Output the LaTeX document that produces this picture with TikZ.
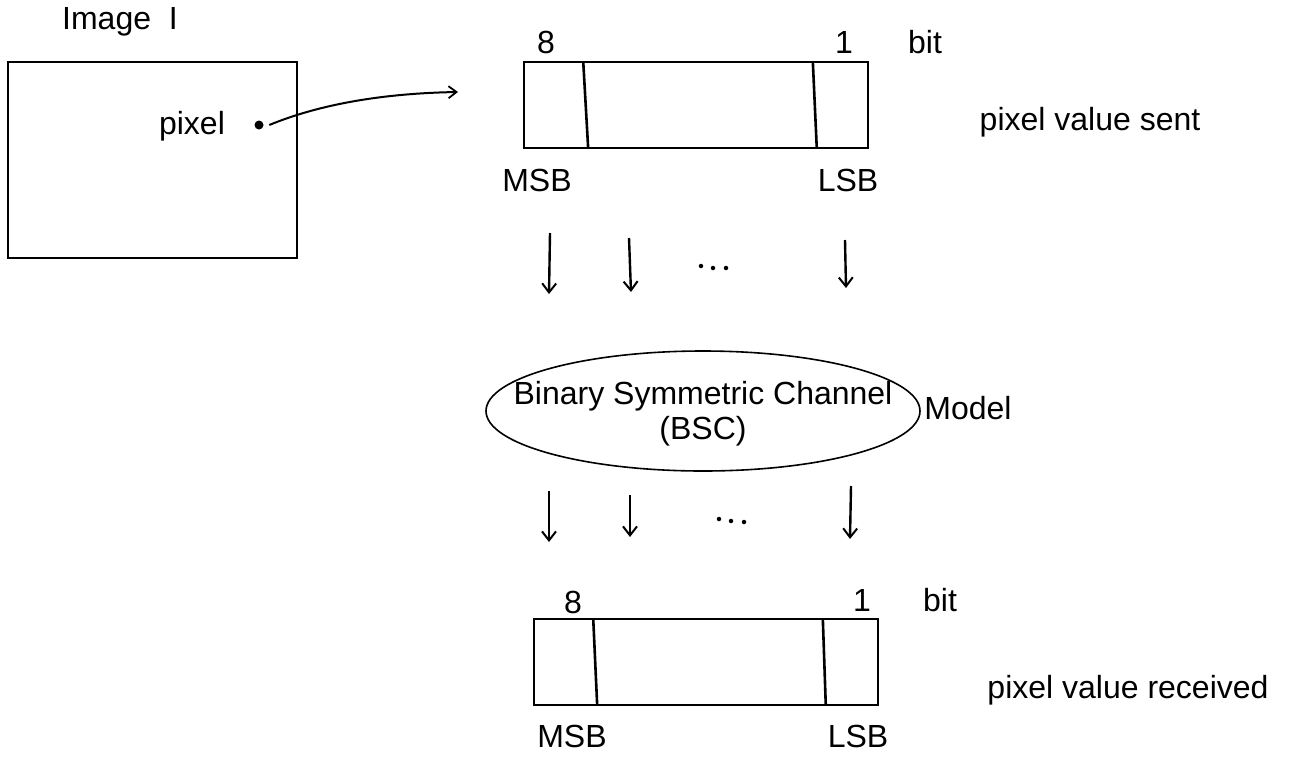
\documentclass[tikz,border=0pt]{standalone}
\usepackage{fontspec}
\setmainfont{Liberation Sans}
\usetikzlibrary{arrows.meta,shapes.geometric}
\begin{document}
\begin{tikzpicture}[x=1pt,y=-1pt,
  line width=1.6pt,
  lbl/.style={inner sep=0pt,font=\fontsize{32}{36}\selectfont},
  dotmark/.style={circle,fill,inner sep=0pt,minimum size=4.5pt},
  reg/.style={draw,line width=1.6pt,minimum width=344pt,minimum height=86pt,inner sep=0pt},
  divider/.style={line width=2.6pt},
  down/.style={line width=2.4pt,-{Straight Barb[length=9pt,width=14pt,line width=2pt]}},
  ptr/.style={line width=2pt,-{Straight Barb[length=8pt,width=12pt,line width=1.8pt]}}]
\useasboundingbox (0,0) rectangle (1291,756);
% image
\node[draw,line width=1.6pt,minimum width=289pt,minimum height=196pt,inner sep=0pt] (img) at (152.5,160) {};
\node[lbl] (imgt) at (120,22) {Image\ \ I};
\node[lbl] (pix) at (192,126) {pixel};
\node[circle,fill,inner sep=0pt,minimum size=9pt] (dot) at (259,125) {};
\coordinate (ptrend) at (458,92);
\draw[ptr] (dot.east) ++(5,0) coordinate (ptrstart) .. controls (330,100) and (400,93) .. (ptrend);
% top register
\node[reg] (top) at (696,105) {};
\draw[divider] ([xshift=60pt]top.north west) -- ([xshift=65pt]top.south west);
\draw[divider] ([xshift=-56pt]top.north east) -- ([xshift=-52pt]top.south east);
\node[lbl] (t8) at (546,42) {8};
\node[lbl] (t1) at (844,42) {1};
\node[lbl] (tbit) at (925,42) {bit};
\node[lbl] (tmsb) at (537,180) {MSB};
\node[lbl] (tlsb) at (848,180) {LSB};
\node[lbl] (sent) at (1090,122) {pixel value sent};
% arrows down top
\coordinate (a1s) at (550,233); \coordinate (a1e) at (549,294);
\coordinate (a2s) at (629,238); \coordinate (a2e) at (631,292);
\coordinate (a3s) at (845,240); \coordinate (a3e) at (846,288);
\draw[down] (a1s) -- (a1e);
\draw[down] (a2s) -- (a2e);
\draw[down] (a3s) -- (a3e);
\node[dotmark] (td1) at (701,266) {};
\node[dotmark] (td2) at (713,268) {};
\node[dotmark] (td3) at (726,268) {};
% channel
\node[draw,ellipse,line width=1.6pt,minimum width=434pt,minimum height=120pt,inner sep=0pt] (bsc) at (703,411) {};
\node[lbl,align=center] (bsct) at (703,414) {Binary Symmetric Channel\\[-1pt](BSC)};
\node[lbl] (model) at (968,408) {Model};
% arrows down bottom
\coordinate (b1s) at (549,491); \coordinate (b1e) at (549,542);
\coordinate (b2s) at (630,495); \coordinate (b2e) at (630,537);
\coordinate (b3s) at (851,486); \coordinate (b3e) at (850,539);
\draw[down] (b1s) -- (b1e);
\draw[down] (b2s) -- (b2e);
\draw[down] (b3s) -- (b3e);
\node[dotmark] (bd1) at (719,519) {};
\node[dotmark] (bd2) at (731,521) {};
\node[dotmark] (bd3) at (744,522) {};
% bottom register
\node[reg] (bot) at (706,662) {};
\draw[divider] ([xshift=60pt]bot.north west) -- ([xshift=64pt]bot.south west);
\draw[divider] ([xshift=-56pt]bot.north east) -- ([xshift=-53pt]bot.south east);
\node[lbl] (b8) at (573,602) {8};
\node[lbl] (b1) at (862,600) {1};
\node[lbl] (bbit) at (940,600) {bit};
\node[lbl] (bmsb) at (572,736) {MSB};
\node[lbl] (blsb) at (858,736) {LSB};
\node[lbl] (recv) at (1128,690) {pixel value received};
\end{tikzpicture}
\end{document}
